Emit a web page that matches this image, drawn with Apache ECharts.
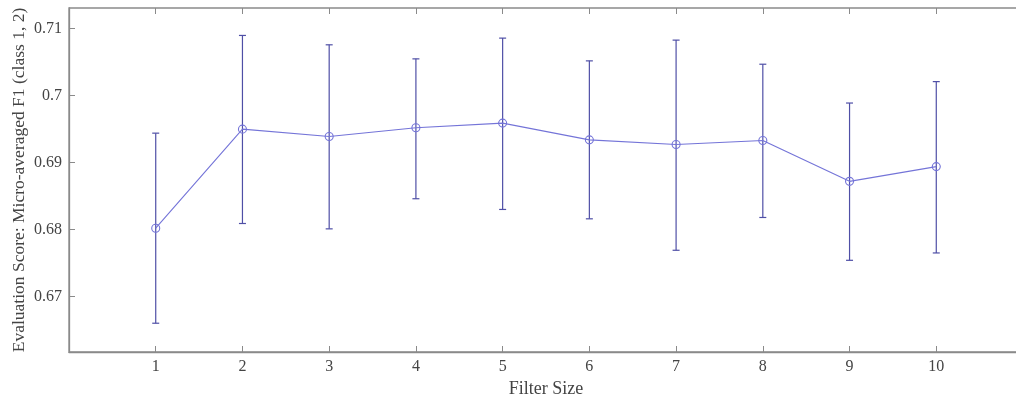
<!DOCTYPE html>
<html>
<head>
<meta charset="utf-8">
<script src="https://cdn.jsdelivr.net/npm/echarts@6/dist/echarts.min.js"></script>
<style>html,body{margin:0;padding:0;background:#fff;}#c{width:1016px;height:400px;}</style>
</head>
<body>
<div id="c"></div>
<script>
const filterSizes = [1, 2, 3, 4, 5, 6, 7, 8, 9, 10];
const meanScores = [0.6802, 0.6950, 0.6939, 0.6952, 0.6959, 0.6934, 0.6927, 0.6933, 0.6872, 0.6894];
const upperBounds = [0.6944, 0.7090, 0.7076, 0.7055, 0.7086, 0.7052, 0.7083, 0.7047, 0.6989, 0.7021];
const lowerBounds = [0.6660, 0.6809, 0.6801, 0.6846, 0.6830, 0.6816, 0.6769, 0.6818, 0.6754, 0.6765];
const yTickValues = [0.67, 0.68, 0.69, 0.70, 0.71];
const xTickValues = [1, 2, 3, 4, 5, 6, 7, 8, 9, 10];

const lineColor = '#7474d8';
const barColor = '#4f4fa6';
const axisColor = '#8a8a8a';
const textColor = '#444';
const font = '"Liberation Serif", "DejaVu Serif", serif';

const chart = echarts.init(document.getElementById('c'), null, {renderer: 'canvas'});
const errData = filterSizes.map((x, i) => [x, lowerBounds[i], upperBounds[i]]);
const lineData = filterSizes.map((x, i) => [x, meanScores[i]]);

chart.setOption({
  animation: false,
  backgroundColor: '#fff',
  grid: {left: 69, top: 8, width: 954, height: 344, containLabel: false, outerBoundsMode: 'none',
    show: true, borderColor: axisColor, borderWidth: 1.3},
  xAxis: [{
    type: 'value', min: 0, max: 11, interval: 1,
    name: 'Filter Size', nameLocation: 'middle', nameGap: 25,
    nameTextStyle: {fontFamily: font, fontSize: 18, color: textColor},
    axisLine: {show: true, onZero: false, lineStyle: {color: axisColor, width: 1.3}},
    axisTick: {show: true, inside: true, length: 6, customValues: xTickValues, lineStyle: {color: axisColor}},
    axisLabel: {customValues: xTickValues, fontFamily: font, fontSize: 16, color: textColor, margin: 7},
    splitLine: {show: false}
  }, {
    type: 'value', min: 0, max: 11, position: 'top',
    axisLine: {show: false},
    axisTick: {show: true, inside: true, length: 6, customValues: xTickValues, lineStyle: {color: axisColor}},
    axisLabel: {show: false},
    splitLine: {show: false}
  }],
  yAxis: [{
    type: 'value', min: 0.6617, max: 0.7131,
    name: 'Evaluation Score: Micro-averaged F1 (class 1, 2)', nameLocation: 'middle', nameGap: 41,
    nameMoveOverlap: false,
    nameTextStyle: {fontFamily: font, fontSize: 17.5, color: textColor},
    axisLine: {show: true, lineStyle: {color: axisColor, width: 1.3}},
    axisTick: {show: true, inside: true, length: 6, customValues: yTickValues, lineStyle: {color: axisColor}},
    axisLabel: {customValues: yTickValues, fontFamily: font, fontSize: 16, color: textColor, margin: 7,
      formatter: v => String(parseFloat(v.toFixed(4)))},
    splitLine: {show: false}
  }],
  series: [{
    type: 'custom',
    data: errData,
    z: 3,
    renderItem: function (params, api) {
      const x = api.value(0);
      const lo = api.coord([x, api.value(1)]);
      const hi = api.coord([x, api.value(2)]);
      const hw = 3.5;
      const style = {stroke: barColor, lineWidth: 1.2};
      return {type: 'group', children: [
        {type: 'line', shape: {x1: lo[0], y1: lo[1], x2: hi[0], y2: hi[1]}, style: style},
        {type: 'line', shape: {x1: hi[0] - hw, y1: hi[1], x2: hi[0] + hw, y2: hi[1]}, style: style},
        {type: 'line', shape: {x1: lo[0] - hw, y1: lo[1], x2: lo[0] + hw, y2: lo[1]}, style: style}
      ]};
    }
  }, {
    type: 'line',
    data: lineData,
    z: 4,
    symbol: 'circle', symbolSize: 8, showSymbol: true,
    itemStyle: {color: 'rgba(0,0,0,0)', borderColor: lineColor, borderWidth: 1.1},
    lineStyle: {color: lineColor, width: 1.1}
  }]
});
</script>
</body>
</html>
